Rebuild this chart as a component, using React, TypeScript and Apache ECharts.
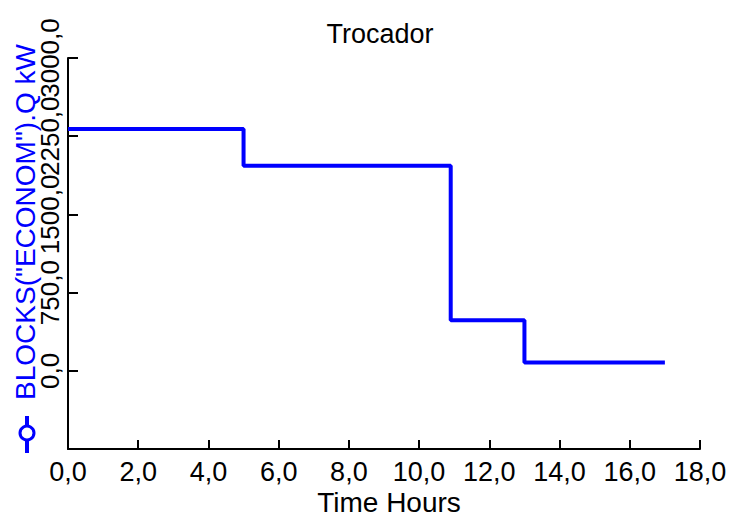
import React, { useEffect, useRef } from "react";
import * as echarts from "echarts";

const TITLE = "Trocador";
const X_NAME = "Time Hours";
const Y_NAME = 'BLOCKS("ECONOM").Q kW';
const times = [0, 5.0, 10.9, 13.0, 17.0];
const values = [2318, 1967, 485, 80, 80];
const X_MIN = 0, X_MAX = 18, X_STEP = 2;
const Y_MIN = -750, Y_MAX = 3000, Y_STEP = 750;
// tick labels drawn by a second (label-only) axis so that overlapping labels both show
const Y_OVERLAP_LABELS = [2250];

const FONT = '"Liberation Sans", Arial, sans-serif';
const BLUE = "#0000ff";
const fmt = (v: number) => v.toFixed(1).replace(".", ",");

export default function App() {
  const ref = useRef<HTMLDivElement>(null);
  useEffect(() => {
    const chart = echarts.init(ref.current!, null, { renderer: "svg" });
    const yLabelBase = {
      color: "#000",
      fontSize: 26,
      fontFamily: FONT,
      rotate: 90,
      margin: 5,
      hideOverlap: false,
    };
    chart.setOption({
      animation: false,
      backgroundColor: "#fff",
      grid: { left: 68, right: 31, top: 58, bottom: 69, containLabel: false },
      xAxis: {
        type: "value",
        min: X_MIN,
        max: X_MAX,
        interval: X_STEP,
        axisLine: { show: true, onZero: false, lineStyle: { color: "#000", width: 2 } },
        axisTick: { show: true, inside: true, length: 9, lineStyle: { color: "#000", width: 2 } },
        axisLabel: {
          color: "#000",
          fontSize: 27,
          fontFamily: FONT,
          margin: 9,
          showMinLabel: true,
          showMaxLabel: true,
          formatter: (v: number) => fmt(v),
        },
        splitLine: { show: false },
      },
      yAxis: [
        {
          type: "value",
          position: "left",
          offset: 0,
          min: Y_MIN,
          max: Y_MAX,
          interval: Y_STEP,
          axisLine: { show: true, onZero: false, lineStyle: { color: "#000", width: 2 } },
          axisTick: { show: true, inside: true, length: 10, lineStyle: { color: "#000", width: 2 } },
          axisLabel: {
            ...yLabelBase,
            showMinLabel: true,
            showMaxLabel: true,
            formatter: (v: number) => (v < 0 || Y_OVERLAP_LABELS.includes(v) ? "" : fmt(v)),
          },
          splitLine: { show: false },
        },
        {
          type: "value",
          position: "left",
          offset: 0,
          min: Y_MIN,
          max: Y_MAX,
          interval: Y_STEP,
          axisLine: { show: false, onZero: false },
          axisTick: { show: false },
          axisLabel: {
            ...yLabelBase,
            showMinLabel: false,
            showMaxLabel: false,
            formatter: (v: number) => (Y_OVERLAP_LABELS.includes(v) ? fmt(v) : ""),
          },
          splitLine: { show: false },
        },
      ],
      graphic: [
        {
          type: "text",
          x: 380,
          y: 20,
          style: {
            text: TITLE,
            fill: "#000",
            font: `27px ${FONT}`,
            textAlign: "center",
            textVerticalAlign: "top",
          },
        },
        {
          type: "text",
          x: 389,
          y: 488,
          style: {
            text: X_NAME,
            fill: "#000",
            font: `28px ${FONT}`,
            textAlign: "center",
            textVerticalAlign: "top",
          },
        },
        {
          type: "text",
          x: 25,
          y: 222,
          rotation: Math.PI / 2,
          style: {
            text: Y_NAME,
            fill: BLUE,
            font: `28px ${FONT}`,
            textAlign: "center",
            textVerticalAlign: "middle",
          },
        },
        {
          type: "line",
          shape: { x1: 27, y1: 416, x2: 27, y2: 453 },
          style: { stroke: BLUE, lineWidth: 4 },
        },
        {
          type: "circle",
          shape: { cx: 27, cy: 433, r: 7 },
          style: { fill: "#fff", stroke: BLUE, lineWidth: 3 },
        },
      ],
      series: [
        {
          type: "line",
          step: "end",
          yAxisIndex: 0,
          data: times.map((t, i) => [t, values[i]]),
          symbol: "none",
          lineStyle: { color: BLUE, width: 4 },
        },
      ],
    });
    return () => chart.dispose();
  }, []);
  return <div ref={ref} style={{ width: 731, height: 518, position: "absolute", left: 0, top: 0 }} />;
}
